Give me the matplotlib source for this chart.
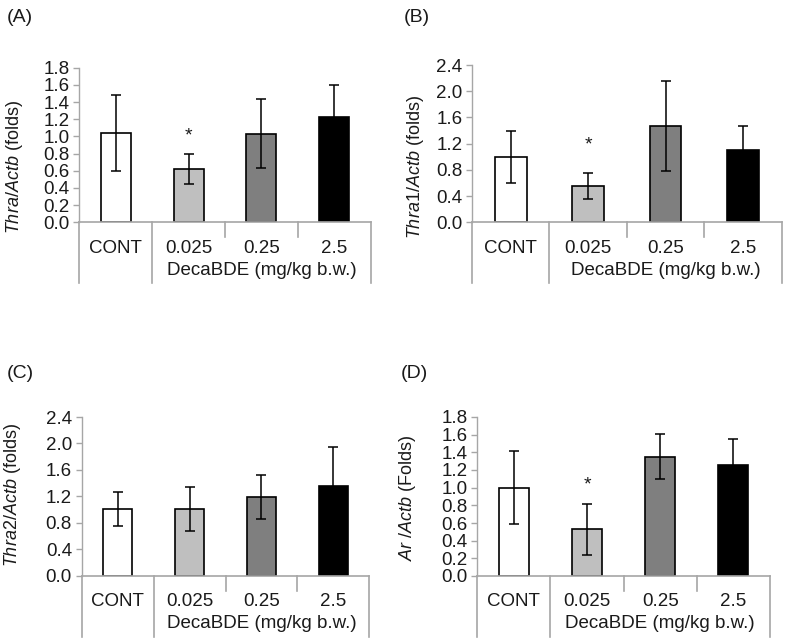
import numpy as np
import matplotlib
matplotlib.use("Agg")
import matplotlib.pyplot as plt

plt.rcParams['font.family'] = ['Liberation Sans', 'DejaVu Sans']
plt.rcParams['mathtext.fontset'] = 'custom'
plt.rcParams['mathtext.it'] = 'Liberation Sans:italic'
plt.rcParams['mathtext.rm'] = 'Liberation Sans'

# data
categories = ['CONT', '0.025', '0.25', '2.5']
group_label = 'DecaBDE (mg/kg b.w.)'

thra_mean = [1.04, 0.62, 1.03, 1.23]
thra_err = [0.44, 0.175, 0.40, 0.37]
thra1_mean = [1.00, 0.55, 1.47, 1.11]
thra1_err = [0.40, 0.20, 0.68, 0.365]
thra2_mean = [1.01, 1.01, 1.19, 1.35]
thra2_err = [0.26, 0.335, 0.335, 0.595]
ar_mean = [1.00, 0.53, 1.35, 1.26]
ar_err = [0.41, 0.29, 0.255, 0.29]

sig_a = [False, True, False, False]
sig_b = [False, True, False, False]
sig_c = [False, False, False, False]
sig_d = [False, True, False, False]

bar_colors = ['white', '#bfbfbf', '#7f7f7f', 'black']
axis_gray = '#a6a6a6'
txt = '#1a1a1a'

W, H = 787, 642
fig = plt.figure(figsize=(W / 100, H / 100), dpi=100)

# panel: letter, ylabel, means, errs, sig, ymax, ystep, box (left, right, top, bottom px),
#        letter pos, ylabel pos, star offset px
panels = [
    ('(A)', r'$\mathit{Thra/Actb}$ (folds)', thra_mean, thra_err, sig_a, 1.8, 0.2,
     (79.3, 370.7, 67.7, 222.3), (7, 17), (15, 167), 15),
    ('(B)', r'$\mathit{Thra1/Actb}$ (folds)', thra1_mean, thra1_err, sig_b, 2.4, 0.4,
     (472, 781.7, 65, 222.3), (404, 17), (415, 167), 25),
    ('(C)', r'$\mathit{Thra2/Actb}$ (folds)', thra2_mean, thra2_err, sig_c, 2.4, 0.4,
     (81.7, 369.3, 417, 575.5), (7, 373), (13, 495), 15),
    ('(D)', r'$\mathit{Ar\ /Actb}$ (Folds)', ar_mean, ar_err, sig_d, 1.8, 0.2,
     (477.3, 770, 417, 576), (401, 373), (407, 498), 16),
]

for letter, ylab, means, errs, sig, ymax, ystep, box, lpos, ypos, star_off in panels:
    l, r, t, b = box
    ax = fig.add_axes([l / W, 1 - b / H, (r - l) / W, (b - t) / H])
    x = np.arange(len(categories)) + 0.5
    ax.bar(x, means, width=0.41, color=bar_colors, edgecolor='black', linewidth=1.2, zorder=2)
    ax.errorbar(x, means, yerr=errs, fmt='none', ecolor='black', elinewidth=1.1,
                capsize=3.5, capthick=1.1, zorder=3)
    for xi, m, e, s in zip(x, means, errs, sig):
        if s:
            ax.annotate('*', xy=(xi, m + e), xytext=(0, star_off * 0.72 + 2),
                        textcoords='offset points', ha='center', va='center',
                        fontsize=14, color=txt)
    ax.set_xlim(0, 4)
    ax.set_ylim(0, ymax)
    ticks = np.arange(0, ymax + 1e-9, ystep)
    ax.set_yticks(ticks)
    ax.set_yticklabels(['%.1f' % v for v in ticks])
    ax.tick_params(axis='y', direction='out', length=4, width=1, color=axis_gray,
                   labelsize=13.5, labelcolor=txt, pad=3)
    ax.set_xticks([])
    for sp in ['top', 'right']:
        ax.spines[sp].set_visible(False)
    ax.spines['left'].set_color(axis_gray)
    ax.spines['bottom'].set_color(axis_gray)
    ax.spines['left'].set_linewidth(1)
    ax.spines['bottom'].set_linewidth(1.2)

    # multi-level category axis separators
    hpx = b - t
    for k in range(5):
        depth = 61 if k in (0, 1, 4) else 15
        ax.plot([k, k], [0, -depth / hpx], transform=ax.get_xaxis_transform(),
                color=axis_gray, lw=1.2, clip_on=False)
    for xi, c in zip(x, categories):
        ax.annotate(c, xy=(xi, 0), xycoords=('data', 'axes fraction'),
                    xytext=(0, -26 * 0.72), textcoords='offset points',
                    ha='center', va='center', fontsize=13.5, color=txt)
    ax.annotate(group_label, xy=(2.5, 0), xycoords=('data', 'axes fraction'),
                xytext=(0, -48 * 0.72), textcoords='offset points',
                ha='center', va='center', fontsize=13.5, color=txt)

    fig.text(lpos[0] / W, 1 - lpos[1] / H, letter, ha='left', va='center',
             fontsize=14, color=txt)
    fig.text(ypos[0] / W, 1 - ypos[1] / H, ylab, ha='center', va='center',
             rotation=90, fontsize=13, color=txt)

fig.savefig('out.png', dpi=100)
